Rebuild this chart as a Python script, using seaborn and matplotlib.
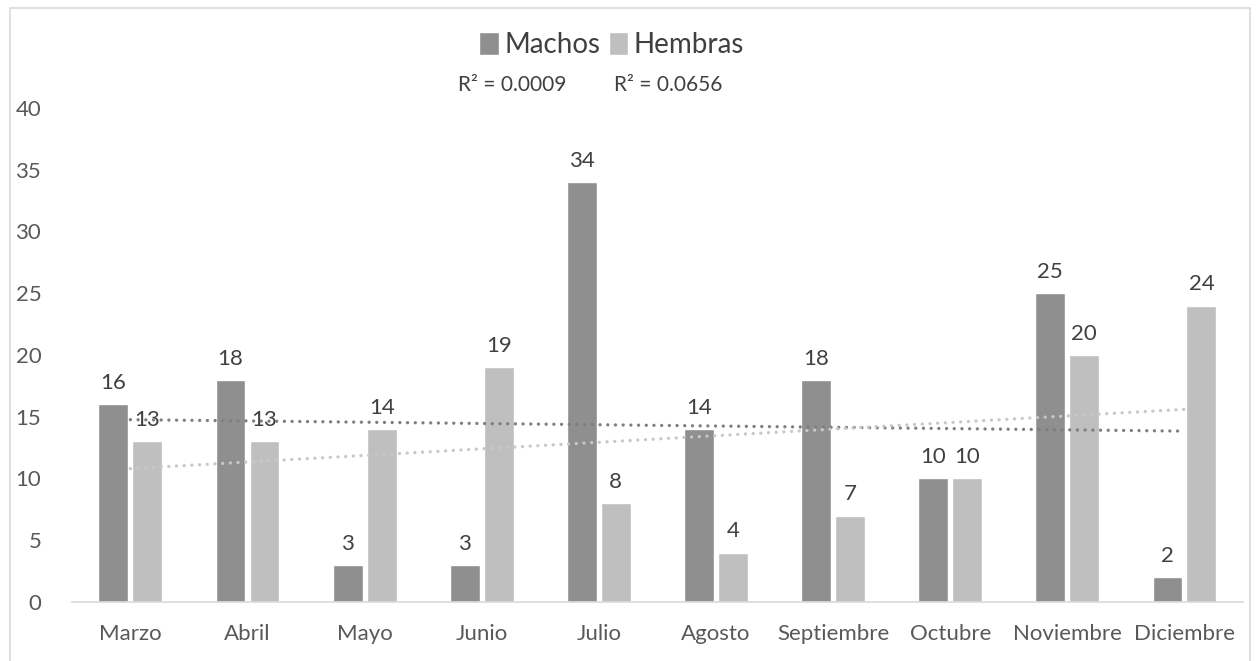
import numpy as np
import pandas as pd
import matplotlib
matplotlib.use("Agg")
import matplotlib.pyplot as plt
import seaborn as sns
from matplotlib.patches import Rectangle

# data
meses = ["Marzo", "Abril", "Mayo", "Junio", "Julio", "Agosto",
         "Septiembre", "Octubre", "Noviembre", "Diciembre"]
machos = [16, 18, 3, 3, 34, 14, 18, 10, 25, 2]
hembras = [13, 13, 14, 19, 8, 4, 7, 10, 20, 24]
series = ["Machos", "Hembras"]
colores = {"Machos": "#8f8f8f", "Hembras": "#bfbfbf"}
trend_colores = {"Machos": "#7f7f7f", "Hembras": "#c8c8c8"}

df = pd.DataFrame({"Mes": meses * 2,
                   "Sexo": ["Machos"] * len(meses) + ["Hembras"] * len(meses),
                   "Cantidad": machos + hembras})

sns.set_theme(style="white")
plt.rcParams["font.family"] = ["Lato", "DejaVu Sans"]

fig = plt.figure(figsize=(12.6, 6.61), dpi=100)
ax = fig.add_axes([0.057, 0.0893, 0.9295, 0.7473])

sns.barplot(data=df, x="Mes", y="Cantidad", hue="Sexo", order=meses,
            hue_order=series, palette=colores, width=0.58, gap=0.12,
            saturation=1, ax=ax, legend=True)

for cont in ax.containers:
    ax.bar_label(cont, padding=8, fontsize=16, color="#404040")

# linear trendlines (Excel style) with R²
x = np.arange(len(meses))
r2_txt = {}
for s, vals in zip(series, [machos, hembras]):
    y = np.array(vals, dtype=float)
    p = np.polyfit(x, y, 1)
    fit = np.polyval(p, x)
    r2 = 1 - np.sum((y - fit) ** 2) / np.sum((y - y.mean()) ** 2)
    r2_txt[s] = r2
    ax.plot(x, fit, linestyle=(0, (0.01, 2.3)), linewidth=2.4,
            color=trend_colores[s], dash_capstyle="round", zorder=3)

ax.text(3.26, 41.9, f"R² = {r2_txt['Machos']:.4f}", ha="center", va="center",
        fontsize=15, color="#404040", clip_on=False)
ax.text(4.59, 41.9, f"R² = {r2_txt['Hembras']:.4f}", ha="center", va="center",
        fontsize=15, color="#404040", clip_on=False)

ax.set_ylim(0, 40)
ax.set_xlim(-0.5, len(meses) - 0.5)
ax.set_yticks(range(0, 41, 5))
ax.set_xlabel("")
ax.set_ylabel("")
ax.tick_params(axis="both", length=0, labelsize=16, colors="#595959")
ax.tick_params(axis="x", pad=16)
ax.tick_params(axis="y", pad=22)
for side in ["left", "right", "top"]:
    ax.spines[side].set_visible(False)
ax.spines["bottom"].set_color("#d9d9d9")
ax.spines["bottom"].set_linewidth(1.2)

handles, labels = ax.get_legend_handles_labels()
ax.legend(handles, labels, loc="center", bbox_to_anchor=(0.4855, 0.932),
          bbox_transform=fig.transFigure, ncol=2, frameon=False,
          fontsize=20, handlelength=0.7, handleheight=0.9,
          handletextpad=0.2, columnspacing=0.3, labelcolor="#404040")

fig.patches.append(Rectangle((0.008, -0.02), 0.984, 1.008, transform=fig.transFigure,
                             fill=False, edgecolor="#d9d9d9", linewidth=1.2))

fig.savefig("out.png", dpi=100)
